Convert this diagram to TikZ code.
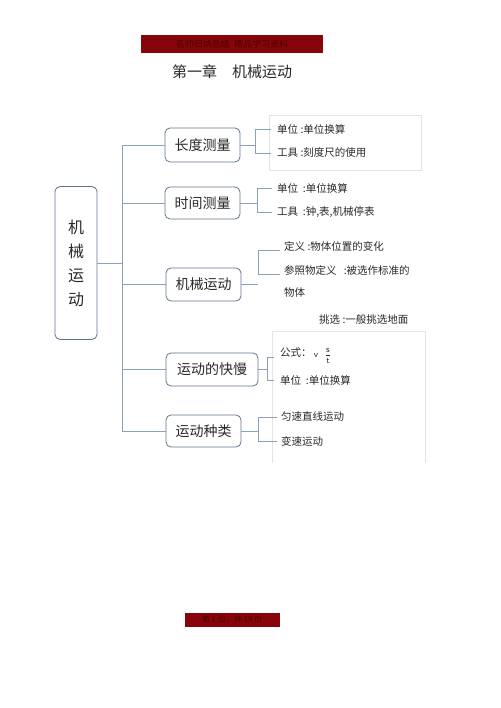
\documentclass[tikz,border=0pt]{standalone}
\usepackage{fontspec}
\newfontfamily\cjk{Noto Sans CJK SC}
\definecolor{boxc}{RGB}{95,115,145}
\definecolor{linec}{RGB}{140,160,190}
\definecolor{lightc}{RGB}{225,228,232}
\definecolor{barred}{RGB}{135,5,10}
\definecolor{bartext}{RGB}{75,0,0}
\definecolor{txt}{RGB}{40,40,40}
\begin{document}
\begin{tikzpicture}[x=1pt,y=-1pt,
  box/.style={draw=boxc, rounded corners=5pt, line width=0.8pt, text=txt,
    font=\cjk\fontsize{14}{16}\selectfont, inner sep=0pt},
  conn/.style={draw=linec, line width=0.7pt},
  leaf/.style={anchor=west, text=txt, font=\cjk\fontsize{10.5}{12}\selectfont, inner sep=0pt},
  bar/.style={fill=barred, inner sep=0pt, text=bartext}]
\useasboundingbox (0,0) rectangle (500,708);
% header / footer bars
\node[bar, minimum width=182, minimum height=18, font=\cjk\fontsize{9}{10}\selectfont] (hb) at (232,44) {名师归纳总结\ \ 精品学习资料};
\node[text=txt, font=\cjk\fontsize{15}{17}\selectfont] (title) at (232,72) {第一章\quad 机械运动};
\node[bar, minimum width=95, minimum height=14, font=\cjk\fontsize{8}{9}\selectfont] (fb) at (232,620) {第\ 1\ 页，共\ 19\ 页};
% main box
\node[box, minimum width=42, minimum height=153, align=center,
  font=\cjk\fontsize{16}{24}\selectfont] (m) at (76,263) {机\\械\\运\\动};
% branch boxes
\node[box, minimum width=75, minimum height=34] (b1) at (202.5,145) {长度测量};
\node[box, minimum width=75, minimum height=32] (b2) at (202.5,203) {时间测量};
\node[box, minimum width=75, minimum height=33] (b3) at (203.5,284.5) {机械运动};
\node[box, minimum width=92, minimum height=33] (b4) at (212,369.5) {运动的快慢};
\node[box, minimum width=75, minimum height=32] (b5) at (203.5,431) {运动种类};
% trunk
\coordinate (t) at (122,0);
\draw[conn] (t |- b1.west) -- (t |- b5.west);
\draw[conn] (m.east) -- (m.east -| t);
\foreach \b in {b1,b2,b3,b4,b5} \draw[conn] (t |- \b.west) -- (\b.west);
% light boxes
\draw[lightc, line width=0.6pt] (269,115) rectangle (421,170);
\draw[lightc, line width=0.6pt] (272,463) -- (272,331) -- (425,331) -- (425,463);
% leaves: length
\node[leaf] (l11) at (277,129) {单位 :单位换算};
\node[leaf] (l12) at (277,153) {工具 :刻度尺的使用};
\draw[conn] (b1.east) -- ++(15,0) coordinate (j1);
\draw[conn] ([xshift=-6pt]l11.west) -| (j1 |- l12.west) -- ([xshift=-6pt]l12.west);
% leaves: time
\node[leaf] (l21) at (277,188) {单位\ \ :单位换算};
\node[leaf] (l22) at (277,212) {工具\ \ :钟,表,机械停表};
\draw[conn] (b2.east) -- ++(17,0) coordinate (j2);
\draw[conn] ([xshift=-5pt]l21.west) -| (j2 |- l22.west) -- ([xshift=-5pt]l22.west);
% leaves: mechanical motion
\node[leaf] (l31) at (284,246) {定义 :物体位置的变化};
\node[leaf] (l32) at (284,270) {参照物定义\ \ \ :被选作标准的};
\node[leaf] (l33) at (284,293) {物体};
\coordinate (c31) at (280,250);
\coordinate (c32) at (280,274);
\draw[conn] (b3.east) -- ++(17,0) coordinate (j3);
\draw[conn] (c31) -| (j3 |- c32) -- (c32);
\node[leaf] (l34) at (319,320) {挑选 :一般挑选地面};
% leaves: speed
\node[leaf, anchor=west] (l41) at (280,353) {公式：};
\node[text=txt, inner sep=0pt, font=\sffamily\fontsize{9}{10}\selectfont] (v) at (316,355) {v};
\node[text=txt, inner sep=0pt, font=\sffamily\fontsize{9}{10}\selectfont] (frac) at (328,356) {$\displaystyle\frac{\mathsf{s}}{\mathsf{t}}$};
\node[leaf] (l42) at (280,380) {单位\ \ :单位换算};
\coordinate (c41) at (274,357);
\draw[conn] (b4.east) -- ++(9,0) coordinate (j4);
\draw[conn] (c41) -| (j4 |- l42.west) -- ([xshift=-6pt]l42.west);
% leaves: kinds
\node[leaf] (l51) at (281,417) {匀速直线运动};
\node[leaf] (l52) at (281,441) {变速运动};
\draw[conn] (b5.east) -- ++(17,0) coordinate (j5);
\draw[conn] ([xshift=-4pt]l51.west) -| (j5 |- l52.west) -- ([xshift=-4pt]l52.west);
\end{tikzpicture}
\end{document}
